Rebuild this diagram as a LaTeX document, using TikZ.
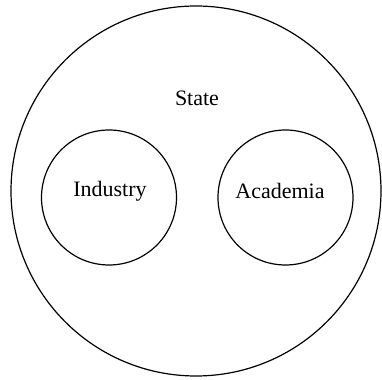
\documentclass[tikz,border=0pt]{standalone}
\usepackage{fontspec}
\setmainfont{Liberation Serif}
\usetikzlibrary{positioning}

\begin{document}
\begin{tikzpicture}[
		x=0.5pt, y=-0.5pt,
		font=\fontsize{11}{13}\selectfont,
		% Style for the sets
		set circ/.style={circle, draw, line width=0.6pt, inner sep=0pt},
		outer set/.style={set circ, minimum size=185pt},
		inner set/.style={set circ, minimum size=67.5pt},
		% Style for the names
		set label/.style={inner sep=1pt, align=center}
		]
		
		% canvas
		\useasboundingbox (0, 0) rectangle (382, 380);
		
		% STATE
		\node[outer set] (state) at (196, 191) {};
		\node[set label] (stateName) at (197, 98) {State};
		
		% INDUSTRY AND ACADEMIA
		\node[inner set] (industry) at (109, 197.5) {};
		\node[set label] (industryName) at (110, 191) {Industry};
		\node[inner set] (academia) at (285.5, 197.5) {};
		\node[set label] (academiaName) at (280, 191) {Academia};
	\end{tikzpicture}
\end{document}
